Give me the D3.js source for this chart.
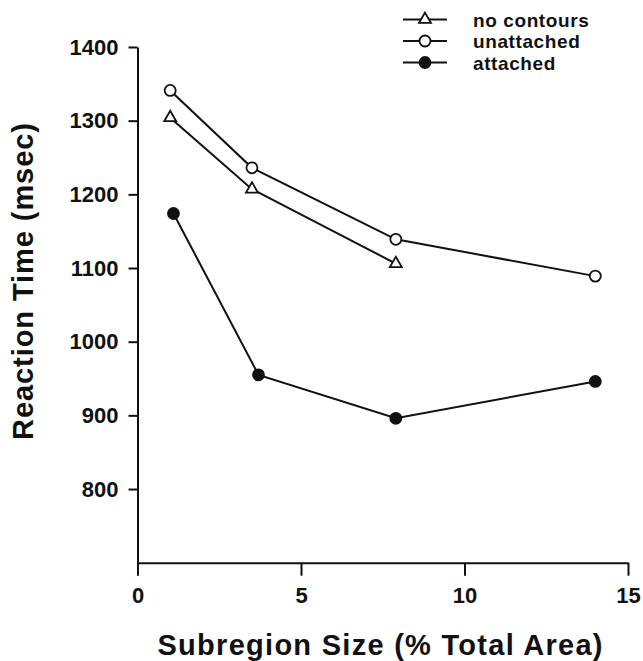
<!DOCTYPE html>
<html>
<head>
<meta charset="utf-8">
<script src="https://cdn.jsdelivr.net/npm/d3@7"></script>
<style>
  body { margin: 0; background: #fff; }
  svg text { font-family: "Liberation Sans", Arial, Helvetica, sans-serif; font-weight: bold; fill: #111; }
  .axis path, .axis line { stroke: #111; stroke-width: 2; }
  .axis text { font-size: 22px; }
</style>
</head>
<body>
<div id="chart"></div>
<script>
// data
var sizes = [1.0, 3.5, 7.9, 14.0];
var noContours = [1304, 1207, 1106];
var unattached = [1341, 1236, 1139, 1089];
var attachedX = [1.1, 3.7, 7.9, 14.0];
var attached = [1174, 955, 896, 946];

var xTicks = [0, 5, 10, 15];
var yTicks = [800, 900, 1000, 1100, 1200, 1300, 1400];

var series = [
    {name: "no contours", xs: sizes, ys: noContours, marker: "triangle"},
    {name: "unattached", xs: sizes, ys: unattached, marker: "open"},
    {name: "attached", xs: attachedX, ys: attached, marker: "filled"}
];

var width = 643,
    height = 661;

var svg = d3.select("#chart").append("svg")
    .attr("width", width)
    .attr("height", height);

// set scales
var x = d3.scaleLinear()
    .domain([0, 15])
    .range([137.5, 628]);

var y = d3.scaleLinear()
    .domain([700, 1400])
    .range([562.7, 47]);

var xAxis = d3.axisBottom(x)
    .tickValues(xTicks)
    .tickFormat(d3.format("d"))
    .tickSize(13)
    .tickSizeOuter(0)
    .tickPadding(12);

var yAxis = d3.axisLeft(y)
    .tickValues(yTicks)
    .tickFormat(d3.format("d"))
    .tickSize(9)
    .tickSizeOuter(0)
    .tickPadding(10);

svg.append("g")
    .attr("class", "x-axis axis")
    .attr("transform", "translate(0," + y(700) + ")")
    .call(xAxis);

svg.append("g")
    .attr("class", "y-axis axis")
    .attr("transform", "translate(" + x(0) + ",0)")
    .call(yAxis);

svg.selectAll(".axis text").attr("fill", "#111");

// axis titles
svg.append("text")
    .attr("transform", "translate(33,281.5) rotate(-90)")
    .attr("text-anchor", "middle")
    .attr("font-size", 29)
    .attr("textLength", 317)
    .attr("lengthAdjust", "spacing")
    .text("Reaction  Time  (msec)");

svg.append("text")
    .attr("x", 380)
    .attr("y", 655)
    .attr("text-anchor", "middle")
    .attr("font-size", 29)
    .attr("textLength", 445)
    .attr("lengthAdjust", "spacing")
    .text("Subregion  Size  (%  Total  Area)");

var line = d3.line()
    .x(function(d) { return x(d[0]); })
    .y(function(d) { return y(d[1]); });

function drawMarker(g, type, cx, cy) {
    if (type === "triangle") {
        g.append("path")
            .attr("d", d3.symbol().type(d3.symbolTriangle).size(62)())
            .attr("transform", "translate(" + cx + "," + cy + ")")
            .attr("fill", "#fff")
            .attr("stroke", "#111")
            .attr("stroke-width", 1.8);
    } else {
        g.append("circle")
            .attr("cx", cx)
            .attr("cy", cy)
            .attr("r", 5.5)
            .attr("fill", type === "filled" ? "#111" : "#fff")
            .attr("stroke", "#111")
            .attr("stroke-width", 1.8);
    }
}

series.forEach(function(s) {
    var pts = s.ys.map(function(v, i) { return [s.xs[i], v]; });
    svg.append("path")
        .datum(pts)
        .attr("d", line)
        .attr("fill", "none")
        .attr("stroke", "#111")
        .attr("stroke-width", 2);
    var g = svg.append("g");
    pts.forEach(function(p) {
        drawMarker(g, s.marker, x(p[0]), y(p[1]));
    });
});

// legend
var legendY = [19.5, 41, 62.5];
series.forEach(function(s, i) {
    var g = svg.append("g");
    g.append("line")
        .attr("x1", 403)
        .attr("x2", 447)
        .attr("y1", legendY[i])
        .attr("y2", legendY[i])
        .attr("stroke", "#111")
        .attr("stroke-width", 2);
    drawMarker(g, s.marker, 425, legendY[i]);
    g.append("text")
        .attr("x", 473)
        .attr("y", legendY[i] + 7)
        .attr("font-size", 19)
        .attr("letter-spacing", 0.6)
        .text(s.name);
});
</script>
</body>
</html>
